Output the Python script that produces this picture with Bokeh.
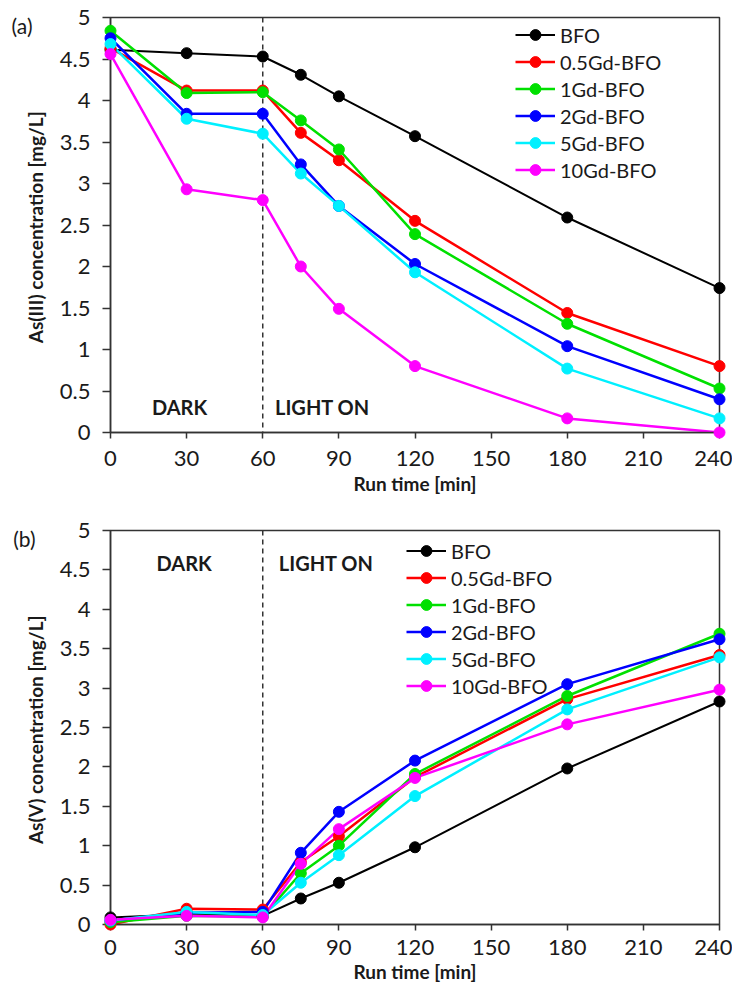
from bokeh.plotting import figure
from bokeh.models import (Legend, LegendItem, Span, Label, FixedTicker,
                          NumeralTickFormatter, Range1d, LinearAxis,
                          CustomJSTickFormatter)
from bokeh.layouts import column
from bokeh.embed import file_html
from bokeh.resources import INLINE

# ---------------- data ----------------
time_min = [0, 30, 60, 75, 90, 120, 180, 240]
series_names = ["BFO", "0.5Gd-BFO", "1Gd-BFO", "2Gd-BFO", "5Gd-BFO", "10Gd-BFO"]
series_colors = ["#000000", "#FF0000", "#00E000", "#0000FF", "#00F0FF", "#FF00FF"]

# (a) As(III) concentration [mg/L]
as3_bfo = [4.61, 4.57, 4.53, 4.31, 4.05, 3.57, 2.59, 1.74]
as3_05gd = [4.63, 4.12, 4.12, 3.61, 3.28, 2.55, 1.44, 0.80]
as3_1gd = [4.84, 4.09, 4.10, 3.76, 3.41, 2.39, 1.31, 0.53]
as3_2gd = [4.75, 3.84, 3.84, 3.23, 2.73, 2.03, 1.04, 0.40]
as3_5gd = [4.68, 3.78, 3.60, 3.12, 2.73, 1.93, 0.77, 0.17]
as3_10gd = [4.56, 2.93, 2.80, 2.00, 1.49, 0.80, 0.17, 0.00]

# (b) As(V) concentration [mg/L]
as5_bfo = [0.09, 0.13, 0.11, 0.33, 0.53, 0.98, 1.98, 2.83]
as5_05gd = [0.00, 0.20, 0.19, 0.79, 1.12, 1.87, 2.86, 3.42]
as5_1gd = [0.03, 0.11, 0.10, 0.65, 1.00, 1.91, 2.90, 3.69]
as5_2gd = [0.05, 0.15, 0.16, 0.91, 1.43, 2.08, 3.05, 3.62]
as5_5gd = [0.05, 0.16, 0.12, 0.53, 0.88, 1.63, 2.73, 3.39]
as5_10gd = [0.06, 0.11, 0.09, 0.77, 1.21, 1.86, 2.54, 2.98]

x_ticks = [0, 30, 60, 90, 120, 150, 180, 210, 240]
y_ticks = [0, 0.5, 1, 1.5, 2, 2.5, 3, 3.5, 4, 4.5, 5]

FONT = "Lato"
TXT = "#1a1a1a"
AX = "#333333"


def make_panel(series, ylabel, tag, tag_y, tag_standoff, dark_xy, light_xy,
               legend_loc, height, borders, x_standoffs):
    left, right, top, bottom = borders
    p = figure(width=732, height=height, x_range=Range1d(0, 240),
               y_range=Range1d(0, 5), output_backend="svg",
               toolbar_location=None, min_border_left=left,
               min_border_right=right, min_border_top=top,
               min_border_bottom=bottom)
    p.grid.visible = False
    p.outline_line_color = AX
    p.outline_line_width = 1.5
    p.background_fill_color = "white"
    p.border_fill_color = "white"

    for ax in (p.xaxis[0], p.yaxis[0]):
        ax.axis_line_color = AX
        ax.axis_line_width = 1.5
        ax.major_tick_line_color = AX
        ax.major_tick_line_width = 1.5
        ax.major_tick_in = 0
        ax.minor_tick_line_color = None
        ax.major_label_text_font = FONT
        ax.major_label_text_font_size = "22px"
        ax.major_label_text_color = TXT
        ax.axis_label_text_font = FONT
        ax.axis_label_text_font_size = "19px"
        ax.axis_label_text_font_style = "bold"
        ax.axis_label_text_color = TXT

    p.xaxis.ticker = FixedTicker(ticks=x_ticks)
    p.xaxis.formatter = NumeralTickFormatter(format="0")
    p.xaxis.axis_label = "Run time [min]"
    p.xaxis.major_tick_out = 6
    p.xaxis.major_label_standoff = x_standoffs[0]
    p.xaxis.axis_label_standoff = x_standoffs[1]

    p.yaxis.ticker = FixedTicker(ticks=y_ticks)
    p.yaxis.formatter = NumeralTickFormatter(format="0.[0]")
    p.yaxis.axis_label = ylabel
    p.yaxis.major_tick_out = 8
    p.yaxis.major_label_standoff = 12
    p.yaxis.axis_label_standoff = 10

    # panel tag "(a)" / "(b)" drawn as an outer, line-less axis label
    tag_axis = LinearAxis(
        ticker=FixedTicker(ticks=[tag_y]),
        formatter=CustomJSTickFormatter(code="return '%s'" % tag),
        axis_line_color=None, major_tick_line_color=None,
        minor_tick_line_color=None, major_tick_in=0, major_tick_out=0,
        major_label_standoff=tag_standoff, major_label_text_font=FONT,
        major_label_text_font_size="21px", major_label_text_color=TXT)
    p.add_layout(tag_axis, "left")

    p.add_layout(Span(location=60, dimension="height", line_color=AX,
                      line_width=1.5, line_dash="5 4"))

    items = []
    for name, col, vals in zip(series_names, series_colors, series):
        lw = 2 if col == "#000000" else 2.5
        r1 = p.line(time_min, vals, line_color=col, line_width=lw)
        r2 = p.scatter(time_min, vals, size=11, fill_color=col,
                       line_color=col, level="overlay")
        items.append(LegendItem(label=name, renderers=[r1, r2]))

    legend = Legend(items=items, location=legend_loc,
                    border_line_color=None, background_fill_alpha=0,
                    padding=0, margin=0, spacing=0, glyph_width=40,
                    glyph_height=27, label_height=27, label_standoff=5,
                    label_text_font=FONT, label_text_font_size="20px",
                    label_text_color=TXT)
    p.add_layout(legend)

    for (xx, yy), t in ((dark_xy, "DARK"), (light_xy, "LIGHT ON")):
        p.add_layout(Label(x=xx, y=yy, text=t, text_font=FONT,
                           text_font_size="20px", text_font_style="bold",
                           text_color=TXT, text_align="center",
                           text_baseline="middle"))
    return p


pa = make_panel([as3_bfo, as3_05gd, as3_1gd, as3_2gd, as3_5gd, as3_10gd],
                "As(III) concentration  [mg/L]", "(a)", 4.90, -12,
                (27.2, 0.31), (83.5, 0.31), (405, 249), 512,
                (110, 13, 17, 80), (12, 3))
pb = make_panel([as5_bfo, as5_05gd, as5_1gd, as5_2gd, as5_5gd, as5_10gd],
                "As(V) concentration  [mg/L]", "(b)", 4.90, -15,
                (29.0, 4.59), (85.0, 4.59), (296, 225), 479,
                (104, 13, 18, 67), (9, 2))

layout = column(pa, pb, spacing=0)
open("out.html", "w").write(file_html(layout, INLINE))
